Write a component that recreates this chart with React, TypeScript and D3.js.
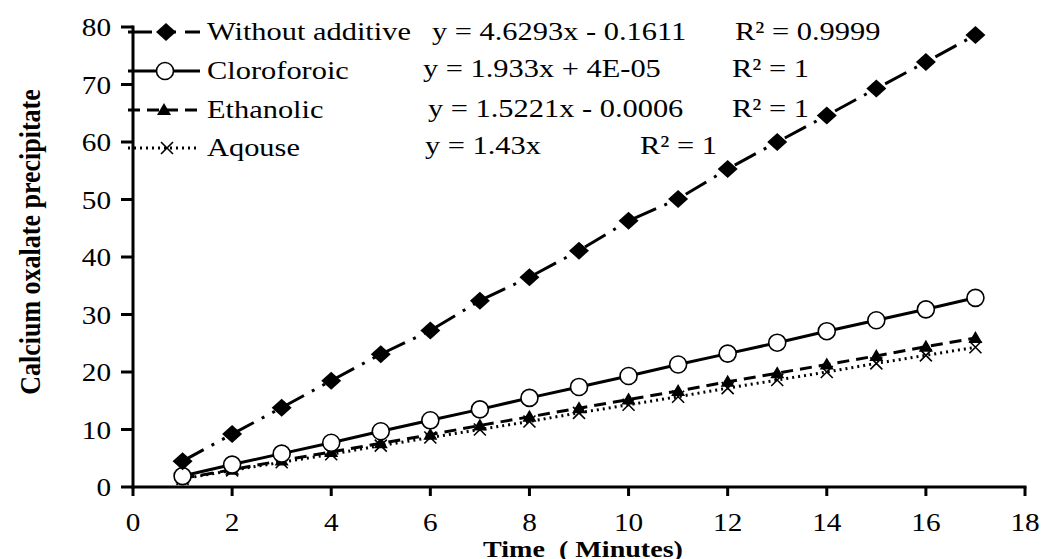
import React, { useEffect, useRef } from "react";
import * as d3 from "d3";

const minutes = [1, 2, 3, 4, 5, 6, 7, 8, 9, 10, 11, 12, 13, 14, 15, 16, 17];
const withoutAdditive = [4.5, 9.2, 13.8, 18.5, 23.1, 27.2, 32.4, 36.5, 41.1, 46.3, 50.1, 55.3, 60.0, 64.6, 69.3, 73.9, 78.6];
const cloroforoic = [1.9, 3.9, 5.8, 7.7, 9.7, 11.6, 13.5, 15.5, 17.4, 19.3, 21.3, 23.2, 25.1, 27.1, 29.0, 30.9, 32.9];
const ethanolic = [1.5, 3.0, 4.6, 6.1, 7.6, 9.1, 10.7, 12.2, 13.7, 15.2, 16.7, 18.3, 19.8, 21.3, 22.8, 24.4, 25.9];
const aqouse = [1.4, 2.9, 4.3, 5.7, 7.2, 8.6, 10.0, 11.4, 12.9, 14.3, 15.7, 17.2, 18.6, 20.0, 21.5, 22.9, 24.3];

const seriesNames = ["Without additive", "Cloroforoic", "Ethanolic", "Aqouse"];
const equations = ["y = 4.6293x - 0.1611", "y = 1.933x + 4E-05", "y = 1.5221x - 0.0006", "y = 1.43x"];
const rSquared = ["R² = 0.9999", "R² = 1", "R² = 1", "R² = 1"];

const xTicks = [0, 2, 4, 6, 8, 10, 12, 14, 16, 18];
const yTicks = [0, 10, 20, 30, 40, 50, 60, 70, 80];

const width = 1043;
const height = 559;
const font = "'Liberation Serif', 'Times New Roman', serif";
const stretch = 1.17; // the original text is a little wide

// per-series look: dash pattern and marker
const styles = [
  { dash: "24,9,3,9,3,9", marker: "diamond" },
  { dash: null, marker: "circle" },
  { dash: "12,7", marker: "triangle" },
  { dash: "2,4", marker: "cross" },
];

const eqX = [432, 423, 428, 425];
const rX = [735, 732, 732, 640];
const eqBase = [40, 77, 117, 154];
const legendY = [32, 71, 110, 148];
const legendMarkX = [166, 165, 164, 167];

function drawMarker(g, kind, x, y) {
  if (kind === "diamond") {
    g.append("path")
      .attr("d", `M${x},${y - 9}L${x + 10},${y}L${x},${y + 9}L${x - 10},${y}Z`)
      .attr("fill", "#000");
  } else if (kind === "circle") {
    g.append("circle")
      .attr("cx", x).attr("cy", y).attr("r", 8.5)
      .attr("fill", "#fff").attr("stroke", "#000").attr("stroke-width", 1.6);
  } else if (kind === "triangle") {
    g.append("path")
      .attr("d", `M${x},${y - 7}L${x + 7},${y + 5}L${x - 7},${y + 5}Z`)
      .attr("fill", "#000");
  } else {
    g.append("path")
      .attr("d", `M${x - 6},${y - 6}L${x + 6},${y + 6}M${x - 6},${y + 6}L${x + 6},${y - 6}`)
      .attr("stroke", "#000").attr("stroke-width", 1.6);
  }
}

function label(g, x, y, str, size, anchor = "start", bold = false) {
  return g.append("text")
    .attr("transform", `translate(${x},${y}) scale(${stretch},1)`)
    .attr("text-anchor", anchor)
    .attr("font-family", font)
    .attr("font-size", size)
    .attr("font-weight", bold ? "bold" : "normal")
    .style("white-space", "pre")
    .text(str);
}

const App = () => {
  const ref = useRef(null);

  useEffect(() => {
    const svg = d3.select(ref.current);
    svg.selectAll("*").remove();

    const x = d3.scaleLinear().domain([0, 18]).range([133, 1025]);
    const y = d3.scaleLinear().domain([0, 80]).range([487, 27]);

    const all = [withoutAdditive, cloroforoic, ethanolic, aqouse];

    // series, drawn back to front
    const line = d3.line().x(d => x(d[0])).y(d => y(d[1]));
    [3, 2, 1, 0].forEach(i => {
      const pts = minutes.map((m, j) => [m, all[i][j]]);
      const g = svg.append("g");
      g.append("path")
        .attr("d", line(pts))
        .attr("fill", "none")
        .attr("stroke", "#000")
        .attr("stroke-width", 3)
        .attr("stroke-dasharray", styles[i].dash);
      pts.forEach(p => drawMarker(g, styles[i].marker, x(p[0]), y(p[1])));
    });

    // axes
    const ax = svg.append("g").attr("stroke", "#000").attr("stroke-width", 3);
    ax.append("line").attr("x1", x(0)).attr("x2", x(0)).attr("y1", y(80) - 1.5).attr("y2", y(0) + 1.5);
    ax.append("line").attr("x1", x(0) - 1.5).attr("x2", x(18) + 1.5).attr("y1", y(0)).attr("y2", y(0));
    yTicks.forEach(t => {
      ax.append("line").attr("x1", x(0) - 12).attr("x2", x(0)).attr("y1", y(t)).attr("y2", y(t));
    });
    xTicks.forEach(t => {
      ax.append("line").attr("x1", x(t)).attr("x2", x(t)).attr("y1", y(0)).attr("y2", y(0) + 9);
    });

    const tl = svg.append("g");
    yTicks.forEach(t => label(tl, 111, y(t) + 9, String(t), 25, "end"));
    xTicks.forEach(t => label(tl, x(t), 531, String(t), 25, "middle"));

    label(svg, 583, 557, "Time  ( Minutes)", 24, "middle", true);

    svg.append("text")
      .attr("transform", `translate(40,242) scale(${stretch},1) rotate(-90)`)
      .attr("text-anchor", "middle")
      .attr("font-family", font)
      .attr("font-weight", "bold")
      .attr("font-size", 26)
      .text("Calcium oxalate precipitate");

    // legend with the trendline equations
    seriesNames.forEach((name, i) => {
      const g = svg.append("g");
      g.append("line")
        .attr("x1", 128).attr("x2", 200)
        .attr("y1", legendY[i]).attr("y2", legendY[i])
        .attr("stroke", "#000").attr("stroke-width", 3)
        .attr("stroke-dasharray", styles[i].dash);
      drawMarker(g, styles[i].marker, legendMarkX[i], legendY[i]);
      label(g, 207, legendY[i] + 8, name, 26);
      label(g, eqX[i], eqBase[i], equations[i], 26);
      label(g, rX[i], eqBase[i], rSquared[i], 26);
    });
  }, []);

  return (
    <svg
      ref={ref}
      width={width}
      height={height}
      viewBox={`0 0 ${width} ${height}`}
      style={{ position: "absolute", left: 0, top: 0, background: "#fff" }}
    ></svg>
  );
};

export default App;
